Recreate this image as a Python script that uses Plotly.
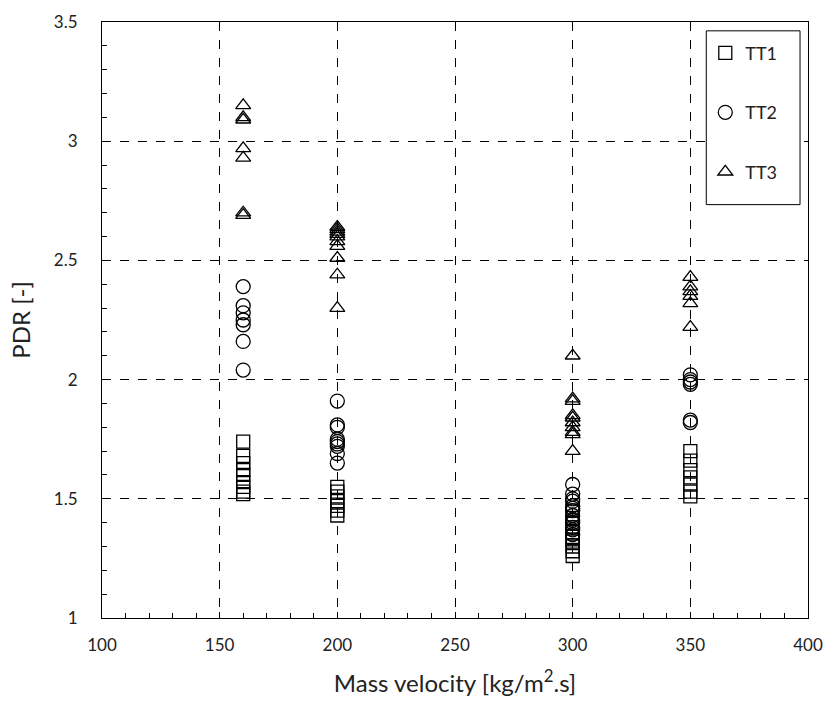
import plotly.graph_objects as go

# Mass velocity columns and PDR values
tt1_x = [160]*9 + [200]*7 + [300]*11 + [350]*7
tt1_y = [1.74, 1.68, 1.65, 1.62, 1.60, 1.57, 1.55, 1.53, 1.52,
         1.55, 1.53, 1.51, 1.49, 1.47, 1.45, 1.43,
         1.45, 1.42, 1.40, 1.38, 1.36, 1.34, 1.33, 1.32, 1.30, 1.28, 1.26,
         1.70, 1.66, 1.62, 1.59, 1.56, 1.53, 1.51]

tt2_x = [160]*7 + [200]*9 + [300]*13 + [350]*6
tt2_y = [2.39, 2.31, 2.28, 2.25, 2.23, 2.16, 2.04,
         1.91, 1.81, 1.80, 1.75, 1.74, 1.73, 1.72, 1.69, 1.65,
         1.56, 1.52, 1.50, 1.49, 1.47, 1.46, 1.45, 1.43, 1.41, 1.40, 1.38, 1.37, 1.35,
         2.02, 2.00, 1.99, 1.98, 1.83, 1.82]

tt3_x = [160]*7 + [200]*10 + [300]*10 + [350]*6
tt3_y = [3.15, 3.10, 3.09, 2.97, 2.93, 2.70, 2.69,
         2.64, 2.63, 2.62, 2.61, 2.60, 2.58, 2.56, 2.51, 2.44, 2.30,
         2.10, 1.92, 1.91, 1.85, 1.84, 1.82, 1.80, 1.78, 1.77, 1.70,
         2.43, 2.39, 2.37, 2.35, 2.32, 2.22]

series = [("TT1", tt1_x, tt1_y, "square-open", 13),
          ("TT2", tt2_x, tt2_y, "circle-open", 14),
          ("TT3", tt3_x, tt3_y, "triangle-up-open", 13)]

FONT = "Lato, 'Open Sans', sans-serif"

fig = go.Figure()
for i, (name, xs, ys, sym, sz) in enumerate(series):
    fig.add_trace(go.Scatter(
        x=xs, y=ys, mode="markers", name=name, legendgroup=name,
        marker=dict(symbol=sym, size=sz, color="black",
                    line=dict(color="black", width=1.3)),
    ))

axis_common = dict(
    showline=True, linecolor="black", linewidth=1, mirror=True,
    showgrid=True, gridcolor="black", gridwidth=1, griddash="dash",
    zeroline=False, ticks="inside", ticklen=6, tickcolor="black",
    tickfont=dict(family=FONT, size=17, color="#222"),
)

fig.update_xaxes(range=[100, 400], dtick=50, tick0=100,
                 minor=dict(ticks="inside", ticklen=5, dtick=10, tickcolor="black", showgrid=False),
                 ticklabelstandoff=12,
                 title=dict(text="Mass velocity [kg/m<sup>2</sup>.s]",
                            font=dict(family=FONT, size=24, color="#222"), standoff=20),
                 **axis_common)
fig.update_yaxes(range=[1, 3.5], dtick=0.5, tick0=1,
                 minor=dict(ticks="inside", ticklen=5, dtick=0.1, tickcolor="black", showgrid=False),
                 ticklabelstandoff=20,
                 title=dict(text="PDR [-]", font=dict(family=FONT, size=24, color="#222"), standoff=16),
                 **axis_common)

# legend box
fig.add_shape(type="rect", xref="paper", yref="paper",
              x0=(708-102)/708, x1=(802-102)/708,
              y0=(618-197)/607, y1=(618-20)/607,
              line=dict(color="black", width=1), fillcolor="white", layer="above")

fig.update_layout(
    width=834, height=706,
    margin=dict(l=102, r=24, t=11, b=88),
    paper_bgcolor="white", plot_bgcolor="white",
    showlegend=True,
    legend=dict(x=(707-102)/708, y=(618-24)/607, xanchor="left", yanchor="top",
                bgcolor="rgba(0,0,0,0)", borderwidth=0,
                font=dict(family=FONT, size=18, color="#222"),
                tracegroupgap=33, itemwidth=30),
)

fig.write_html("out.html")
